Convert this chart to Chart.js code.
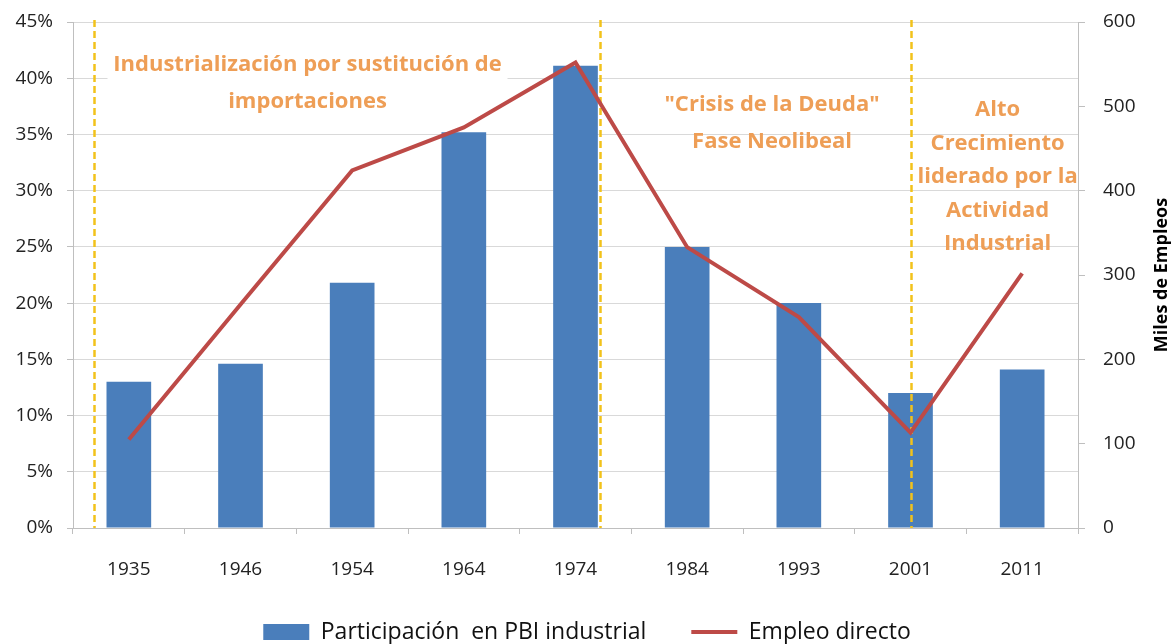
<!DOCTYPE html>
<html lang="es">
<head>
    <meta charset="UTF-8">
    <title>Participación en PBI industrial y empleo directo</title>
    <script src="https://cdn.jsdelivr.net/npm/chart.js"></script>
    <style>
        html, body { margin: 0; padding: 0; background: #fff; }
        #caja { width: 1174px; height: 644px; position: relative; }
    </style>
</head>
<body>
<div id="caja"><canvas id="grafico"></canvas></div>

<script>
// datos
var anios = ['1935', '1946', '1954', '1964', '1974', '1984', '1993', '2001', '2011'];
var participacion = [13.0, 14.6, 21.8, 35.2, 41.1, 25.0, 20.0, 12.0, 14.1]; // % del PBI
var empleo = [105, 265, 424, 475, 552, 333, 250, 113, 302]; // miles de empleos
// limites de cada periodo, en posicion de categoria (0 = 1935)
var cortes = [-0.31, 4.22, 7];
var periodos = [
    ['Industrialización por sustitución de', 'importaciones'],
    ['"Crisis de la Deuda"', 'Fase Neolibeal'],
    ['Alto', 'Crecimiento', 'liderado por la', 'Actividad', 'Industrial']
];

var fuente = "'Open Sans', 'Liberation Sans', sans-serif";
var naranja = '#ee9e56';

// donde va cada texto (x en categorias, y en % del eje izquierdo)
var cajasTexto = [
    { x: 1.6, y: 41.2, paso: 37, anchos: [394, 190], fondo: true },
    { x: 5.76, y: 37.6, paso: 37, anchos: [220, 168] },
    { x: 7.78, y: 37.2, paso: 33.6, anchos: [47, 140, 163, 107, 108], corte: 24.6 }
];

const periodosPlugin = {
    id: 'periodos',
    beforeDatasetsDraw(chart) {
        // fondo blanco del primer cuadro de texto (tapa la grilla)
        const ctx = chart.ctx, x = chart.scales.x, y = chart.scales.y;
        cajasTexto.forEach(function (caja, i) {
            if (!caja.fondo) return;
            const cx = x.getPixelForValue(caja.x);
            const y0 = y.getPixelForValue(caja.y);
            ctx.save();
            ctx.fillStyle = '#fff';
            ctx.fillRect(cx - 200, y0 - 20, 400, caja.paso * periodos[i].length + 2);
            ctx.restore();
        });
    },
    afterDatasetDraw(chart, args) {
        if (args.meta.type !== 'bar') return;
        const ctx = chart.ctx, x = chart.scales.x, a = chart.chartArea;
        ctx.save();
        ctx.strokeStyle = '#f2c21b';
        ctx.lineWidth = 2.5;
        ctx.setLineDash([7, 4]);
        cortes.forEach(function (c) {
            const px = Math.round(x.getPixelForValue(c)) + 0.5;
            ctx.beginPath();
            ctx.moveTo(px, a.top - 2);
            ctx.lineTo(px, a.bottom);
            ctx.stroke();
        });
        ctx.restore();
    },
    afterDraw(chart) {
        const ctx = chart.ctx, x = chart.scales.x, y = chart.scales.y;
        ctx.save();
        ctx.font = 'bold 22px ' + fuente;
        ctx.fillStyle = naranja;
        ctx.textAlign = 'center';
        ctx.textBaseline = 'middle';
        cajasTexto.forEach(function (caja, i) {
            const cx = x.getPixelForValue(caja.x);
            const y0 = y.getPixelForValue(caja.y);
            ctx.save();
            if (caja.corte !== undefined) {
                const yc = y.getPixelForValue(caja.corte);
                ctx.beginPath();
                ctx.rect(cx - 100, 0, 200, yc);
                ctx.clip();
            }
            periodos[i].forEach(function (t, j) {
                ctx.fillText(t, cx, y0 + j * caja.paso, caja.anchos[j]);
            });
            ctx.restore();
        });

        // titulo del eje derecho, leido de abajo hacia arriba
        const y1 = chart.scales.y1;
        ctx.fillStyle = '#000';
        ctx.font = 'bold 18px ' + fuente;
        ctx.translate(1162, (y1.top + y1.bottom) / 2);
        ctx.rotate(-Math.PI / 2);
        ctx.fillText('Miles de Empleos', 0, 0, 170);
        ctx.restore();
    }
};

const tick = { family: fuente, size: 19 };

// sin relleno extra arriba/abajo por las etiquetas
function ancho(w) {
    return function (s) {
        s.width = w;
        s.paddingTop = 0;
        s.paddingBottom = 0;
    };
}

new Chart(document.getElementById('grafico'), {
    data: {
        labels: anios,
        datasets: [{
            type: 'bar',
            label: 'Participación  en PBI industrial',
            data: participacion,
            backgroundColor: '#4a7ebb',
            borderWidth: 0,
            barPercentage: 0.4,
            categoryPercentage: 1,
            yAxisID: 'y',
            pointStyle: 'rect',
            order: 1
        }, {
            type: 'line',
            label: 'Empleo directo',
            data: empleo,
            borderColor: '#bd4a47',
            backgroundColor: '#bd4a47',
            borderWidth: 4,
            pointRadius: 0,
            tension: 0,
            yAxisID: 'y1',
            pointStyle: 'line',
            order: 0
        }]
    },
    options: {
        responsive: true,
        maintainAspectRatio: false,
        animation: false,
        layout: { padding: { top: 22, left: 0, right: 0, bottom: -9.5 } },
        plugins: {
            tooltip: { enabled: false },
            legend: {
                position: 'bottom',
                reverse: true,
                labels: {
                    usePointStyle: true,
                    pointStyleWidth: 46,
                    boxHeight: 16,
                    padding: 45,
                    color: '#111',
                    font: { family: fuente, size: 23 }
                }
            }
        },
        scales: {
            x: {
                grid: { drawOnChartArea: false, color: '#bfbfbf', tickLength: 6 },
                border: { color: '#bfbfbf' },
                ticks: { color: '#222', font: tick, padding: 24, maxRotation: 0 },
                afterFit: function (s) { s.height = 47.5; }
            },
            y: {
                position: 'left',
                min: 0,
                max: 45,
                ticks: { stepSize: 5, color: '#222', font: tick, padding: 14,
                    callback: function (v) { return v + '%'; } },
                grid: { color: '#d9d9d9', tickColor: '#bfbfbf', tickLength: 6 },
                border: { color: '#bfbfbf' },
                afterFit: ancho(73)
            },
            y1: {
                position: 'right',
                min: 0,
                max: 600,
                ticks: { stepSize: 100, color: '#222', font: tick, padding: 18 },
                grid: { drawOnChartArea: false, color: '#bfbfbf', tickLength: 7 },
                border: { color: '#bfbfbf' },
                afterFit: ancho(96)
            }
        }
    },
    plugins: [periodosPlugin]
});
</script>
</body>
</html>
